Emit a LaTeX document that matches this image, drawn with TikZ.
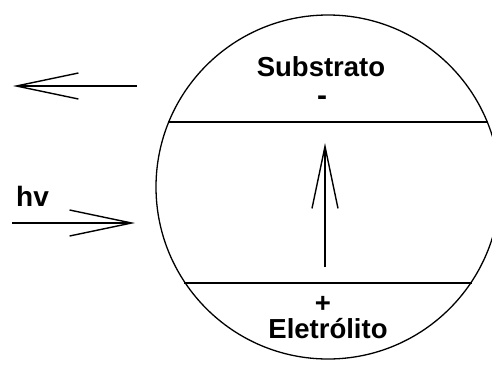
\documentclass[tikz,border=0pt]{standalone}
\usepackage{fontspec}
\setmainfont{Liberation Sans}
\usetikzlibrary{arrows.meta}
\tikzset{
  lbl/.style={inner sep=0pt, font=\bfseries\fontsize{27.5}{27.5}\selectfont},
  arr/.style={line width=1.4pt, -{Straight Barb[length=62pt,width=26pt,line width=1.4pt]}},
  band/.style={line width=1.8pt},
  ring/.style={draw, circle, line width=1.3pt, minimum size=344pt, inner sep=0pt}
}
\begin{document}
\begin{tikzpicture}[x=1pt,y=-1pt]
\useasboundingbox (0,0) rectangle (492,365);
% circle
\node[ring] (c) at (328,187) {};
% band line ends on the circle
\coordinate (uL) at (168,122);
\coordinate (uR) at (488,122);
\coordinate (lL) at (184,283);
\coordinate (lR) at (472,283);
\draw[band] (uL) -- (uR);
\draw[band] (lL) -- (lR);
% labels
\node[lbl, anchor=base] (sub) at (321,76) {Substrato};
\node[lbl, anchor=base, font=\bfseries\fontsize{30}{30}\selectfont] (minus) at (322,105) {-};
\node[lbl, anchor=base] (plus) at (323,312) {+};
\node[lbl, anchor=base] (ele) at (328,338) {Eletrólito};
\node[lbl, anchor=base west, font=\bfseries\fontsize{28}{28}\selectfont] (hv) at (16,206) {hv};
% arrows
\coordinate (outS) at (137,86);
\coordinate (outE) at (13,86);
\coordinate (inS) at (12,223);
\coordinate (inE) at (135,223);
\coordinate (upS) at (325,267);
\coordinate (upE) at (325,143);
\draw[arr] (outS) -- (outE);
\draw[arr] (inS) -- (inE);
\draw[arr] (upS) -- (upE);
\end{tikzpicture}
\end{document}
